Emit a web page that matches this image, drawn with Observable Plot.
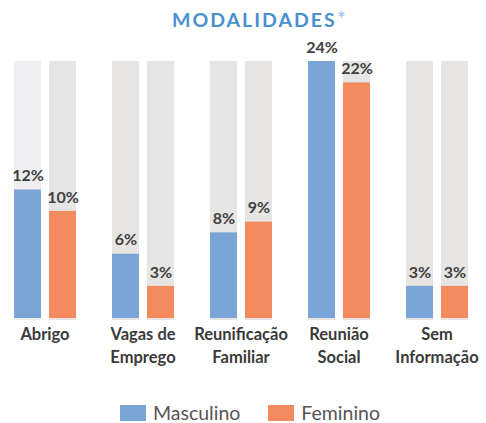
<!DOCTYPE html>
<html><head><meta charset="utf-8">
<script src="https://cdn.jsdelivr.net/npm/d3@7"></script>
<script src="https://cdn.jsdelivr.net/npm/@observablehq/plot@0.6"></script>
<style>
body{margin:0;background:#fff;font-family:Lato,"Open Sans",sans-serif;}
#wrap{width:486px;height:423px;position:relative;overflow:hidden;}
#title{height:35px;line-height:40px;text-align:center;padding-left:32px;box-sizing:border-box;font-size:19.5px;font-weight:bold;color:#4a8fd0;letter-spacing:2px;}
#title span{color:#9cc3ea;font-weight:normal;font-size:22px;letter-spacing:0;vertical-align:top;position:relative;top:-1px;}
#chart svg{display:block;}
#legend{display:flex;justify-content:center;align-items:center;height:20px;line-height:20px;margin-top:23px;font-size:19.5px;color:#555;padding-left:14px;}
.sw{display:inline-block;width:26px;height:16px;margin-right:7px;}
.item{display:flex;align-items:center;margin:0 14px;}
</style></head>
<body><div id="wrap">
<div id="title">MODALIDADES<span>*</span></div>
<div id="chart"></div>
<div id="legend"></div>
</div>
<script>
const categories = ["Abrigo","Vagas de\nEmprego","Reunificação\nFamiliar","Reunião\nSocial","Sem\nInformação"];
const series = ["Masculino","Feminino"];
const masculino = [12, 6, 8, 24, 3];
const feminino = [10, 3, 9, 22, 3];
const yMax = 24;
const colors = ["#78a4d6","#f48b5e"];

const data = [];
categories.forEach((c,i)=>{
  data.push({cat:c, sexo:"Masculino", value:masculino[i], full:yMax});
  data.push({cat:c, sexo:"Feminino", value:feminino[i], full:yMax});
});

const chart = Plot.plot({
  width: 486, height: 345,
  marginLeft: 11, marginRight: 17, marginTop: 26, marginBottom: 62,
  style: {fontFamily: "Lato, sans-serif", background: "transparent"},
  fx: {domain: categories, paddingInner: 0.36, paddingOuter: 0, label: null},
  x: {domain: series, paddingInner: 0.23, paddingOuter: 0, axis: null},
  y: {domain: [0, yMax], axis: null},
  color: {domain: series, range: colors},
  marks: [
    Plot.barY(data, {filter: (d,i)=> i===0, fx:"cat", x:"sexo", y:"full", fill:"#efeff1", insetBottom:-2}),
    Plot.barY(data, {filter: (d,i)=> i!==0, fx:"cat", x:"sexo", y:"full", fill:"#e6e5e3", insetBottom:-2}),
    Plot.barY(data, {fx:"cat", x:"sexo", y:"value", fill:"sexo"}),
    Plot.text(data, {fx:"cat", x:"sexo", y:"value", text: d=>d.value+"%", dy:-14, fontSize:16, fontWeight:"bold", fill:"#404040"}),
    Plot.axisFx({anchor:"bottom", tickSize:0, tickPadding:6, fontSize:16.5, fontWeight:"bold", fill:"#3a3a3a", lineHeight:1.35, label:null})
  ]
});
document.getElementById("chart").appendChild(chart);

const lg = document.getElementById("legend");
series.forEach((s,i)=>{
  const it = document.createElement("div"); it.className="item";
  const sw = document.createElement("span"); sw.className="sw"; sw.style.background=colors[i];
  it.appendChild(sw); it.appendChild(document.createTextNode(s));
  lg.appendChild(it);
});
</script></body></html>
